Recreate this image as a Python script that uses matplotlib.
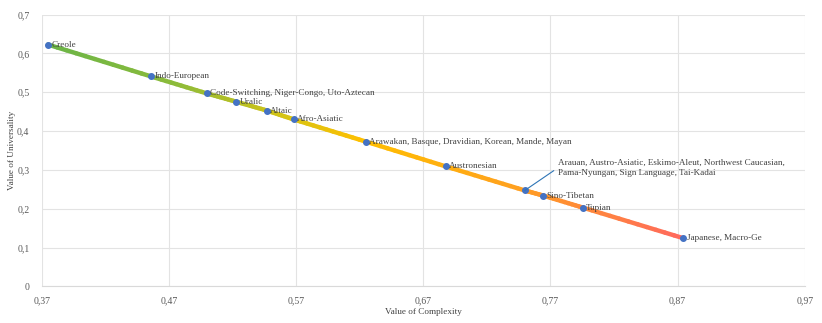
import numpy as np
import matplotlib.pyplot as plt
from matplotlib.collections import LineCollection
from matplotlib.colors import LinearSegmentedColormap

# data
families = ["Creole", "Indo-European", "Code-Switching, Niger-Congo, Uto-Aztecan",
            "Uralic", "Altaic", "Afro-Asiatic",
            "Arawakan, Basque, Dravidian, Korean, Mande, Mayan",
            "Austronesian",
            "Arauan, Austro-Asiatic, Eskimo-Aleut, Northwest Caucasian,\nPama-Nyungan, Sign Language, Tai-Kadai",
            "Sino-Tibetan", "Tupian", "Japanese, Macro-Ge"]
complexity = [0.3747, 0.4557, 0.4997, 0.5225, 0.5469, 0.5681,
              0.6247, 0.6876, 0.7498, 0.7641, 0.7953, 0.8745]
universality = [0.623, 0.541, 0.497, 0.476, 0.453, 0.430,
                0.373, 0.309, 0.247, 0.234, 0.203, 0.124]

xticks = [0.37, 0.47, 0.57, 0.67, 0.77, 0.87, 0.97]
yticks = [0, 0.1, 0.2, 0.3, 0.4, 0.5, 0.6, 0.7]

plt.rcParams['font.family'] = ['Liberation Serif', 'DejaVu Serif']
fs = 6.6

fig = plt.figure(figsize=(8.22, 3.23), dpi=100)
ax = fig.add_axes([0.051, 0.1136, 0.928, 0.841])

# gradient line: green -> yellow -> orange -> red
cmap = LinearSegmentedColormap.from_list(
    "trend", [(0.0, "#6CB547"), (0.2, "#8CBB3A"), (0.38, "#D7C414"),
              (0.5, "#FFBF00"), (0.75, "#FFA020"), (1.0, "#FF6A5C")])
x = np.array(complexity)
y = np.array(universality)
segs, cols = [], []
for i in range(len(x) - 1):
    ts = np.linspace(0, 1, 12)
    px = x[i] + ts * (x[i + 1] - x[i])
    py = y[i] + ts * (y[i + 1] - y[i])
    for j in range(len(ts) - 1):
        segs.append([(px[j], py[j]), (px[j + 1], py[j + 1])])
        cols.append((px[j] - x[0]) / (x[-1] - x[0]))
lc = LineCollection(segs, cmap=cmap, linewidths=3.2, capstyle='round', zorder=2)
lc.set_array(np.array(cols))
ax.add_collection(lc)

ax.scatter(complexity, universality, s=16, color="#4472C4", zorder=3)

for name, cx, uy in zip(families, complexity, universality):
    if name.startswith("Arauan"):
        ax.annotate(name, (cx, uy), xytext=(0.7757, 0.305), textcoords='data',
                    fontsize=fs, color="#404040", va='center', ha='left',
                    linespacing=1.3,
                    arrowprops=dict(arrowstyle='-', color="#2E75B6", lw=0.8,
                                    shrinkA=1, shrinkB=0, relpos=(0, 0.5)))
    else:
        ax.annotate(name, (cx, uy), xytext=(2.5, 0), textcoords='offset points',
                    fontsize=fs, color="#404040", va='center', ha='left')

ax.set_xlim(0.37, 0.97)
ax.set_ylim(0, 0.7)
ax.set_xticks(xticks)
ax.set_yticks(yticks)
ax.set_xticklabels([("%g" % t).replace(".", ",") for t in xticks])
ax.set_yticklabels([("%g" % t).replace(".", ",") for t in yticks])
ax.tick_params(axis='y', length=0, labelsize=7, labelcolor="#595959", pad=9)
ax.tick_params(axis='x', length=0, labelsize=7, labelcolor="#595959", pad=7)
ax.grid(True, color="#E3E3E3", linewidth=0.8, zorder=0)
ax.set_axisbelow(True)
for s in ["top", "right", "left"]:
    ax.spines[s].set_visible(False)
ax.spines["bottom"].set_color("#D9D9D9")

ax.set_xlabel("Value of Complexity", fontsize=fs, color="#404040", labelpad=2)
ax.set_ylabel("Value of Universality", fontsize=fs, color="#404040")
ax.yaxis.set_label_coords(-0.034, 0.5)

plt.savefig("out.png", dpi=100)
